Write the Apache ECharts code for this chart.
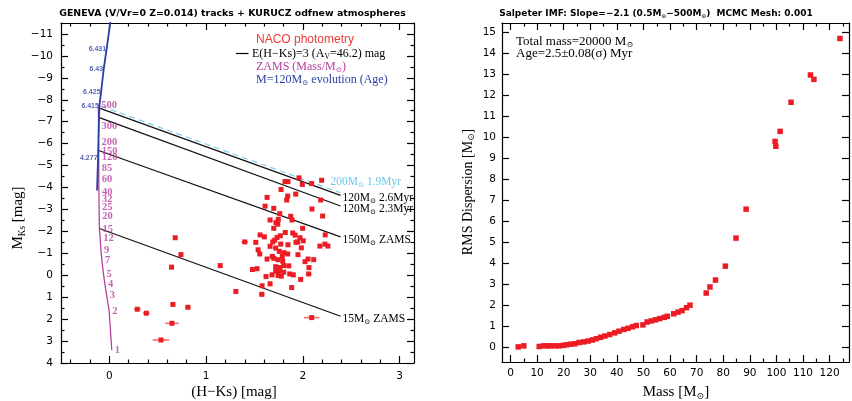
<!DOCTYPE html>
<html><head><meta charset="utf-8">
<script src="https://cdn.jsdelivr.net/npm/echarts@6/dist/echarts.min.js"></script>
<style>html,body{margin:0;padding:0;background:#fff}#c{width:852px;height:401px}</style>
</head><body><div id="c"></div>
<script>
// ---------------- DATA ----------------
// Left panel: NACO photometry (H-Ks colour, absolute Ks magnitude, H-Ks error)
const nacoHK = [1.847,1.961,1.995,2.092,2.195,1.775,1.927,1.844,1.834,1.631,
  2.185,1.610,1.700,2.095,1.762,2.205,1.875,1.889,1.662,1.747,
  1.723,1.741,1.999,1.700,1.819,1.896,1.558,1.603,1.768,1.734,
  1.920,2.232,1.710,1.971,1.947,2.005,1.400,1.514,1.689,1.772,
  1.847,1.930,1.662,1.720,1.985,2.177,2.229,2.260,1.538,1.757,
  1.806,1.555,1.844,1.950,1.685,1.700,1.744,1.631,1.788,2.054,
  2.113,2.023,1.793,1.720,1.762,1.803,1.855,1.479,1.527,2.064,
  1.720,1.762,1.803,1.865,2.061,1.682,1.744,1.778,1.902,1.620,
  1.978,1.662,1.579,1.885,1.576,1.308,1.146,2.092,0.681,0.740,
  0.643,0.289,0.382,0.657,0.812,0.647,0.534,1.816];
const nacoMK = [-4.27,-4.44,-4.14,-4.18,-4.33,-3.91,-3.70,-3.61,-3.43,-3.55,
  -3.43,-3.15,-3.05,-3.02,-2.81,-2.70,-2.69,-2.52,-2.52,-2.55,
  -2.40,-2.33,-2.14,-2.14,-1.95,-1.93,-1.84,-1.75,-1.80,-1.72,
  -1.83,-1.84,-1.60,-1.71,-1.52,-1.57,-1.52,-1.50,-1.52,-1.42,
  -1.39,-1.50,-1.32,-1.24,-1.25,-1.33,-1.42,-1.33,-1.16,-1.09,
  -1.03,-0.97,-0.97,-0.94,-0.86,-0.77,-0.71,-0.74,-0.86,-0.74,
  -0.71,-0.62,-0.64,-0.39,-0.35,-0.44,-0.43,-0.26,-0.30,-0.35,
  -0.19,-0.20,-0.14,-0.06,-0.06,-0.02,0.01,0.04,-0.02,0.06,
  0.19,0.39,0.48,0.56,0.87,0.74,-0.44,1.93,-1.71,-0.94,
  -0.37,1.55,1.73,1.33,1.46,2.19,2.95,-4.27];
const nacoErr = [0,0,0,0,0,0,0,0,0,0,
  0,0.02,0,0,0,0,0,0,0,0,
  0,0,0,0,0,0,0,0,0,0,
  0,0,0,0,0,0,0.035,0,0,0,
  0,0,0,0,0,0,0,0,0,0,
  0,0,0,0,0,0,0,0,0,0,
  0,0,0,0,0,0,0,0,0,0,
  0,0,0,0,0.03,0,0,0,0,0,
  0,0,0,0,0.03,0,0,0.08,0,0,
  0,0.035,0.035,0,0.03,0.07,0.086,0];

// ZAMS track (mass labels in solar masses)
const zamsMass = [500,300,200,150,120,85,60,40,32,25,20,15,12,9,7,5,4,3,2,1];
const zamsHK = [-0.114,-0.112,-0.111,-0.110,-0.110,-0.109,-0.109,-0.108,-0.107,-0.106,
  -0.105,-0.103,-0.095,-0.087,-0.077,-0.060,-0.046,-0.028,-0.002,0.025];
const zamsMK = [-7.76,-6.77,-6.07,-5.67,-5.36,-4.87,-4.39,-3.79,-3.46,-3.08,
  -2.70,-2.10,-1.68,-1.15,-0.67,-0.03,0.40,0.92,1.64,3.41];

// M=120 Msun evolution track, with log(age) labels
const evoHK = [0.012,-0.028,-0.059,-0.086,-0.103,-0.110,-0.117,-0.127];
const evoMK = [-11.6,-10.32,-9.38,-8.33,-7.72,-6.62,-5.36,-3.86];
const evoAge = ['', '6.431', '6.43', '6.425', '6.415', '', '4.277', ''];

// Reddening vectors E(H-Ks)=3
const vecName = ['120|2.6Myr', '120|2.3Myr', '150|ZAMS', '15|ZAMS'];
const vecHK0 = [-0.110, -0.110, -0.110, -0.103];
const vecMK0 = [-7.63, -7.20, -5.69, -2.13];
const vecHK1 = [2.391, 2.391, 2.391, 2.391];
const vecMK1 = [-3.64, -3.16, -1.75, 1.87];
const dashName = '200|1.9Myr';
const dashHK = [-0.086, 2.391];
const dashMK = [-7.71, -3.76];

// Right panel: RMS dispersion vs mass
const rmsMass = [2.9,5.0,10.8,12.4,14.0,15.0,16.7,18.3,19.8,21.0,22.6,24.2,25.8,27.6,29.2,30.8,
  32.3,33.9,35.5,37.3,39.2,40.8,42.6,44.2,45.9,47.3,49.8,51.4,53.0,54.5,56.1,57.8,59.0,
  61.4,63.0,64.5,66.2,67.5,73.6,75.0,77.1,80.8,84.8,88.6,99.5,99.8,101.4,105.5,112.8,114.1,123.9];
const rmsDisp = [0.00,0.05,0.02,0.05,0.05,0.05,0.05,0.05,0.07,0.10,0.13,0.15,0.21,0.24,0.28,0.33,
  0.39,0.46,0.52,0.59,0.67,0.75,0.83,0.89,0.96,1.02,1.05,1.19,1.24,1.29,1.35,1.41,1.46,
  1.58,1.66,1.73,1.87,1.99,2.57,2.86,3.19,3.85,5.19,6.57,9.80,9.57,10.28,11.67,12.97,12.76,14.71];

// Ticks
const lxMajor = [0,1,2,3], lyMajor = [-11,-10,-9,-8,-7,-6,-5,-4,-3,-2,-1,0,1,2,3,4];
const rxMajor = [0,10,20,30,40,50,60,70,80,90,100,110,120];
const ryMajor = [0,1,2,3,4,5,6,7,8,9,10,11,12,13,14,15];

// ---------------- STYLE ----------------
const SANS = '"DejaVu Sans", sans-serif';
const SERIF = '"Liberation Serif", "DejaVu Serif", serif';
const RED = '#ec1c24', MAG = '#b8409f', BLUE = '#2a3fa6', CYAN = '#7fd0ec';
const AX = {color: '#000', width: 1.2};

const lxMinor = [], lyMinor = [], rxMinor = [];
for (let i = -2; i <= 15; i++) if (i % 5 !== 0) lxMinor.push(i / 5);
for (let i = -11; i <= 3; i++) lyMinor.push(i + 0.5);
lyMinor.unshift(-11.5);
for (let i = 0; i <= 12; i++) rxMinor.push(i * 10 + 5);

const minus = v => (v < 0 ? '\u2212' : '') + Math.abs(v);

function mkAxes(kind, grid, min, max, major, minor, o) {
  const pos = kind === 'x' ? ['bottom', 'top'] : ['left', 'right'];
  const base = {type: 'value', gridIndex: grid, min, max, inverse: !!o.inverse,
    splitLine: {show: false}, axisLine: {show: true, onZero: false, lineStyle: AX}};
  const hidLine = {show: false, onZero: false};
  const minorTick = {show: minor.length > 0, inside: true, length: 3.5, customValues: minor, lineStyle: AX};
  return [
    Object.assign({}, base, {position: pos[0],
      axisTick: {show: true, inside: true, length: 7, customValues: major, lineStyle: AX},
      axisLabel: {show: true, customValues: major, margin: o.margin, formatter: o.fmt,
        fontFamily: SANS, fontSize: 10.5, color: '#000'}}),
    Object.assign({}, base, {position: pos[1],
      axisTick: {show: true, inside: true, length: 7, customValues: major, lineStyle: AX},
      axisLabel: {show: false}}),
    Object.assign({}, base, {position: pos[0], axisLine: hidLine, axisTick: minorTick, axisLabel: {show: false}}),
    Object.assign({}, base, {position: pos[1], axisLine: hidLine, axisTick: minorTick, axisLabel: {show: false}})
  ];
}

function rich(size, color, family, weight) {
  return {
    n: {fontSize: size, fontFamily: family, color: color, fontWeight: weight || 'normal'},
    s: {fontSize: size * 0.62, fontFamily: family, color: color, fontWeight: weight || 'normal',
      padding: [size * 0.55, 0, 0, 0]}
  };
}

const chart = echarts.init(document.getElementById('c'), null, {renderer: 'canvas'});

const xAxis = [].concat(
  mkAxes('x', 0, -0.5, 3.15, lxMajor, lxMinor, {margin: 8, fmt: minus}),
  mkAxes('x', 1, -3.2, 127.3, rxMajor, rxMinor, {margin: 6, fmt: v => String(v)})
);
const yAxis = [].concat(
  mkAxes('y', 0, -11.5, 4, lyMajor, lyMinor, {margin: 8, fmt: minus, inverse: true}),
  mkAxes('y', 1, -0.72, 15.45, ryMajor, [], {margin: 6, fmt: v => String(v)})
);

const series = [];

// reddening vectors
vecName.forEach((nm, i) => {
  const parts = nm.split('|');
  series.push({
    type: 'line', xAxisIndex: 0, yAxisIndex: 0, silent: true, symbol: 'none',
    data: [[vecHK0[i], vecMK0[i]], [vecHK1[i], vecMK1[i]]],
    lineStyle: {color: '#111', width: 1.2},
    endLabel: {show: true, distance: 2, offset: [0, 3],
      formatter: '{n|' + parts[0] + 'M}{s|\u2299}{n| ' + parts[1] + '}', rich: rich(11.5, '#000', SERIF)},
    z: 3
  });
});
(function () {
  const parts = dashName.split('|');
  series.push({
    type: 'line', xAxisIndex: 0, yAxisIndex: 0, silent: true, symbol: 'none',
    data: [[dashHK[0], dashMK[0]], [dashHK[1], dashMK[1]]],
    lineStyle: {color: CYAN, width: 1.2, type: [6, 4]},
    endLabel: {show: true, distance: 0, offset: [-10, -11],
      formatter: '{n|' + parts[0] + 'M}{s|\u2299}{n| ' + parts[1] + '}', rich: rich(11.5, '#6fc8e8', SERIF)},
    z: 3
  });
})();

// ZAMS line + mass labels
series.push({
  type: 'line', xAxisIndex: 0, yAxisIndex: 0, silent: true, symbol: 'none',
  data: zamsHK.map((x, i) => [x, zamsMK[i]]),
  lineStyle: {color: MAG, width: 1.3}, z: 4
});
series.push({
  type: 'scatter', xAxisIndex: 0, yAxisIndex: 0, silent: true, symbolSize: 1,
  itemStyle: {color: 'rgba(0,0,0,0)'},
  data: zamsHK.map((x, i) => [x, zamsMK[i], zamsMass[i]]),
  label: {show: true, position: 'right', distance: 2.5, color: MAG, fontFamily: SERIF, fontSize: 10.5,
    fontWeight: 'bold', formatter: p => String(p.value[2])}, z: 4
});

// evolution track
series.push({
  type: 'line', xAxisIndex: 0, yAxisIndex: 0, silent: true, symbol: 'none',
  data: evoHK.map((x, i) => [x, evoMK[i]]),
  lineStyle: {color: BLUE, width: 1.8}, z: 5
});
series.push({
  type: 'scatter', xAxisIndex: 0, yAxisIndex: 0, silent: true, symbolSize: 1,
  itemStyle: {color: 'rgba(0,0,0,0)'},
  data: evoHK.map((x, i) => [x, evoMK[i], evoAge[i]]).filter(d => d[2] !== ''),
  label: {show: true, position: 'left', distance: 0, color: BLUE, fontFamily: '"Liberation Sans", sans-serif',
    fontSize: 7, fontWeight: 'bold', formatter: p => p.value[2]}, z: 5
});

// error bars
series.push({
  type: 'custom', xAxisIndex: 0, yAxisIndex: 0, silent: true,
  data: nacoHK.map((x, i) => [x, nacoMK[i], nacoErr[i]]).filter(d => d[2] > 0),
  encode: {x: 0, y: 1},
  renderItem: (params, api) => {
    const x = api.value(0), y = api.value(1), e = api.value(2);
    const a = api.coord([x - e, y]), b = api.coord([x + e, y]);
    return {type: 'line', shape: {x1: a[0], y1: a[1], x2: b[0], y2: b[1]},
      style: {stroke: 'rgba(236,40,40,0.65)', lineWidth: 1.6}};
  }, z: 6
});
// NACO points
series.push({
  type: 'scatter', xAxisIndex: 0, yAxisIndex: 0, silent: true, symbol: 'rect', symbolSize: 5,
  itemStyle: {color: RED, opacity: 1}, data: nacoHK.map((x, i) => [x, nacoMK[i]]), z: 7
});
// right panel
series.push({
  type: 'scatter', xAxisIndex: 4, yAxisIndex: 4, silent: true, symbol: 'rect', symbolSize: 5.5,
  itemStyle: {color: RED, opacity: 1}, data: rmsMass.map((m, i) => [m, rmsDisp[i]]), z: 7
});

function txt(x, y, text, size, color, family, align, extra, weight) {
  return Object.assign({type: 'text', x: x, y: y, silent: true, z: 100,
    style: {text: text, fontSize: size, fontFamily: family, fill: color, fontWeight: weight || 'normal',
      textAlign: align || 'left', textVerticalAlign: 'middle', rich: rich(size, color, family, weight)}}, extra || {});
}

const graphic = [
  txt(232.5, 14, '{n|GENEVA (V/Vr=0 Z=0.014) tracks + KURUCZ odfnew atmospheres}', 9.4, '#000', SANS, 'center', null, 'bold'),
  txt(656, 14, '{n|Salpeter IMF: Slope=\u22122.1 (0.5M}{s|\u2299}{n|\u2212500M}{s|\u2299}{n|)  MCMC Mesh: 0.001}', 9.0, '#000', SANS, 'center', null, 'bold'),
  txt(256, 40, 'NACO photometry', 12, '#f03a3a', '"Liberation Sans", sans-serif'),
  {type: 'line', silent: true, shape: {x1: 236, y1: 53.5, x2: 248.5, y2: 53.5}, style: {stroke: '#000', lineWidth: 1.2}},
  txt(252, 53.5, '{n|E(H\u2212Ks)=3 (A}{s|V}{n|=46.2) mag}', 12, '#000', SERIF),
  txt(256, 67, '{n|ZAMS (Mass/M}{s|\u2299}{n|)}', 12, MAG, SERIF),
  txt(256, 80, '{n|M=120M}{s|\u2299}{n| evolution (Age)}', 12, BLUE, SERIF),
  txt(516, 41.5, '{n|Total mass=20000 M}{s|\u2299}', 13, '#000', SERIF),
  txt(516, 54, '{n|Age=2.5\u00b10.08(\u03c3) Myr}', 13, '#000', SERIF),
  txt(234, 392, '(H\u2212Ks) [mag]', 15, '#000', SERIF, 'center'),
  txt(676, 392, '{n|Mass [M}{s|\u2299}{n|]}', 15, '#000', SERIF, 'center'),
  txt(18, 218, '{n|M}{s|Ks}{n| [mag]}', 15, '#000', SERIF, 'center', {rotation: Math.PI / 2}),
  txt(468, 192, '{n|RMS Dispersion [M}{s|\u2299}{n|]}', 14, '#000', SERIF, 'center', {rotation: Math.PI / 2})
];

chart.setOption({
  animation: false,
  backgroundColor: '#fff',
  grid: [
    {left: 61, top: 23, width: 353, height: 340, containLabel: false, outerBoundsMode: 'none'},
    {left: 502, top: 23, width: 347, height: 339, containLabel: false, outerBoundsMode: 'none'}
  ],
  xAxis: xAxis,
  yAxis: yAxis,
  series: series,
  graphic: graphic
});
</script>
</body></html>
